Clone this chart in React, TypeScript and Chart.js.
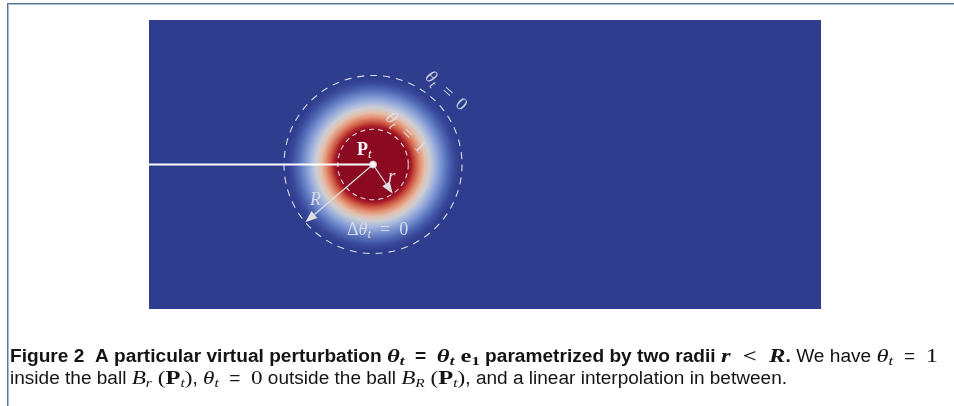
import React, { useEffect, useRef } from "react";
import { Chart, registerables } from "chart.js";

Chart.register(...registerables);

// ---- data (domain units: 1 unit = domain height) ----
const X_RANGE = [0, 2.325];
const Y_RANGE = [0, 1];
const CENTER = { x: 0.775, y: 0.5 };
const RADII = [0.122, 0.308]; // r, R
const CUT_LINE = [
  { x: 0, y: 0.5 },
  { x: 0.775, y: 0.5 },
];
const ARROW_ANGLES = [-56, 220.5]; // degrees: arrow to r, arrow to R
// fraction of R -> colour (cool-to-warm map of theta_t)
const COLOR_STOPS: [number, string][] = [
  [0.0, "rgb(139,9,33)"],
  [0.39, "rgb(139,9,33)"],
  [0.43, "rgb(168,28,40)"],
  [0.475, "rgb(203,84,64)"],
  [0.53, "rgb(226,145,116)"],
  [0.585, "rgb(228,192,172)"],
  [0.64, "rgb(205,206,212)"],
  [0.705, "rgb(160,178,220)"],
  [0.775, "rgb(116,141,205)"],
  [0.845, "rgb(80,104,180)"],
  [0.92, "rgb(56,71,152)"],
  [0.975, "rgb(47,61,143)"],
  [1.0, "rgb(47,61,143)"],
];
// label anchor points (domain units)
const LABEL_PT = { x: 0.72, y: 0.533 };
const LABEL_r = { x: 0.827, y: 0.439 };
const LABEL_R = { x: 0.557, y: 0.36 };
const LABEL_DTHETA = { x: 0.685, y: 0.256 };
const LABEL_THETA0 = { x: 1.03, y: 0.757, rot: 42 };
const LABEL_THETA1 = { x: 0.89, y: 0.612, rot: 45 };

const BG_BLUE = "rgb(47,61,143)";

type Seg = { t: string; f: string; dy?: number; c?: number };

const SANS = '"Liberation Sans", Arial, Helvetica, sans-serif';
const SERIF = '"Liberation Serif", "Times New Roman", serif';
const COND = 0.82;
const B = `bold 18px ${SANS}`;
const RG = `18px ${SANS}`;
const MBI = `bold italic 19px ${SERIF}`;
const MBIs = `bold italic 13px ${SERIF}`;
const MB = `bold 19px ${SERIF}`;
const MBs = `bold 13px ${SERIF}`;
const MI = `italic 18px ${SERIF}`;
const MIs = `italic 12px ${SERIF}`;
const M = `18px ${SERIF}`;
const MI1 = `italic 19px ${SERIF}`;
const MI1s = `italic 13px ${SERIF}`;
const M1 = `19px ${SERIF}`;

const CAPTION_1: Seg[] = [
  { t: "Figure 2  A particular virtual perturbation ", f: B, c: COND },
  { t: "θ", f: MBI },
  { t: "t", f: MBIs, dy: 3 },
  { t: "  =  ", f: B, c: COND },
  { t: "θ", f: MBI },
  { t: "t", f: MBIs, dy: 3 },
  { t: " e", f: MB },
  { t: "1", f: MBs, dy: 3 },
  { t: " parametrized by two radii ", f: B, c: COND },
  { t: "r", f: MBI },
  { t: "  <  ", f: MB },
  { t: "R", f: MBI },
  { t: ". ", f: B, c: COND },
  { t: "We have ", f: RG, c: COND },
  { t: "θ", f: MI1 },
  { t: "t", f: MI1s, dy: 3 },
  { t: "  =  ", f: RG, c: COND },
  { t: "1", f: M1 },
];
const CAPTION_2: Seg[] = [
  { t: "inside the ball ", f: RG, c: COND },
  { t: "B", f: MI },
  { t: "r", f: MIs, dy: 3 },
  { t: " (", f: M },
  { t: "P", f: MB },
  { t: "t", f: MIs, dy: 3 },
  { t: ")", f: M },
  { t: ", ", f: RG, c: COND },
  { t: "θ", f: MI },
  { t: "t", f: MIs, dy: 3 },
  { t: "  =  ", f: RG, c: COND },
  { t: "0", f: M },
  { t: " outside the ball ", f: RG, c: COND },
  { t: "B", f: MI },
  { t: "R", f: MIs, dy: 3 },
  { t: " (", f: M },
  { t: "P", f: MB },
  { t: "t", f: MIs, dy: 3 },
  { t: ")", f: M },
  { t: ", and a linear interpolation in between.", f: RG, c: COND },
];

function measureSegs(ctx: CanvasRenderingContext2D, segs: Seg[]) {
  let w = 0;
  for (const s of segs) {
    ctx.font = s.f;
    w += ctx.measureText(s.t).width * (s.c || 1);
  }
  return w;
}
function drawSegs(ctx: CanvasRenderingContext2D, segs: Seg[], x: number, y: number) {
  let cx = x;
  for (const s of segs) {
    ctx.font = s.f;
    const c = s.c || 1;
    ctx.save();
    ctx.translate(cx, y + (s.dy || 0));
    ctx.scale(c, 1);
    ctx.fillText(s.t, 0, 0);
    ctx.restore();
    cx += ctx.measureText(s.t).width * c;
  }
}

const figurePlugin = {
  id: "figure",
  beforeDraw(chart: any) {
    const { ctx, chartArea, scales } = chart;
    const xs = scales.x;
    const ys = scales.y;
    ctx.save();
    ctx.fillStyle = "#ffffff";
    ctx.fillRect(0, 0, chart.width, chart.height);
    // frame
    ctx.fillStyle = "#5d7690";
    ctx.fillRect(7, 3, chart.width - 7, 1);
    ctx.fillRect(7, 3, 1, chart.height - 3);
    ctx.fillStyle = "#a9bccd";
    ctx.fillRect(8, 4, chart.width - 8, 1);
    ctx.fillRect(8, 4, 1, chart.height - 4);
    // domain
    ctx.fillStyle = BG_BLUE;
    ctx.fillRect(chartArea.left, chartArea.top, chartArea.right - chartArea.left, chartArea.bottom - chartArea.top);
    const cx = xs.getPixelForValue(CENTER.x);
    const cy = ys.getPixelForValue(CENTER.y);
    const unit = xs.getPixelForValue(1) - xs.getPixelForValue(0);
    const rPx = RADII[0] * unit;
    const RPx = RADII[1] * unit;
    const g = ctx.createRadialGradient(cx, cy, 0, cx, cy, RPx);
    for (const [p, c] of COLOR_STOPS) g.addColorStop(p, c);
    ctx.fillStyle = g;
    ctx.beginPath();
    ctx.arc(cx, cy, RPx, 0, Math.PI * 2);
    ctx.fill();
    // dashed circles
    ctx.strokeStyle = "rgba(236,236,240,0.9)";
    ctx.lineWidth = 1.1;
    ctx.setLineDash([7, 6]);
    ctx.beginPath();
    ctx.arc(cx, cy, RPx, 0, Math.PI * 2);
    ctx.stroke();
    ctx.setLineDash([5, 4]);
    ctx.beginPath();
    ctx.arc(cx, cy, rPx, 0, Math.PI * 2);
    ctx.stroke();
    ctx.setLineDash([]);
    ctx.restore();
  },
  beforeDatasetsDraw(chart: any) {
    const { ctx, scales } = chart;
    const xs = scales.x;
    const ys = scales.y;
    const cx = xs.getPixelForValue(CENTER.x);
    const cy = ys.getPixelForValue(CENTER.y);
    const unit = xs.getPixelForValue(1) - xs.getPixelForValue(0);
    ctx.save();
    ARROW_ANGLES.forEach((deg, i) => {
      const a = (deg * Math.PI) / 180;
      const len = RADII[i] * unit;
      const tx = cx + Math.cos(a) * len;
      const ty = cy - Math.sin(a) * len;
      const ux = Math.cos(a);
      const uy = -Math.sin(a);
      const hl = 12;
      const hw = 4.5;
      const bx = tx - ux * hl;
      const by = ty - uy * hl;
      ctx.strokeStyle = "rgb(222,222,226)";
      ctx.fillStyle = "rgb(222,222,226)";
      ctx.lineWidth = 1.2;
      ctx.beginPath();
      ctx.moveTo(cx, cy);
      ctx.lineTo(bx, by);
      ctx.stroke();
      ctx.beginPath();
      ctx.moveTo(tx, ty);
      ctx.lineTo(bx - uy * hw, by + ux * hw);
      ctx.lineTo(bx + uy * hw, by - ux * hw);
      ctx.closePath();
      ctx.fill();
    });
    ctx.restore();
  },
  afterDatasetsDraw(chart: any) {
    const { ctx, scales } = chart;
    const xs = scales.x;
    const ys = scales.y;
    const px = (p: { x: number; y: number }) => [xs.getPixelForValue(p.x), ys.getPixelForValue(p.y)];
    ctx.save();
    ctx.textBaseline = "alphabetic";
    ctx.textAlign = "left";
    // P_t
    ctx.fillStyle = "#ffffff";
    let [x, y] = px(LABEL_PT);
    drawSegs(ctx, [
      { t: "P", f: `bold 18px ${SERIF}` },
      { t: "t", f: `italic 13px ${SERIF}`, dy: 3 },
    ], x, y);
    ctx.fillStyle = "rgb(225,225,230)";
    [x, y] = px(LABEL_r);
    drawSegs(ctx, [{ t: "r", f: `italic 19px ${SERIF}` }], x, y);
    ctx.fillStyle = "rgb(215,218,228)";
    [x, y] = px(LABEL_R);
    drawSegs(ctx, [{ t: "R", f: `italic 18px ${SERIF}` }], x, y);
    [x, y] = px(LABEL_DTHETA);
    const dSegs: Seg[] = [
      { t: "Δ", f: `18px ${SERIF}` },
      { t: "θ", f: `italic 18px ${SERIF}` },
      { t: "t", f: `italic 13px ${SERIF}`, dy: 3 },
      { t: "  =  0", f: `18px ${SERIF}` },
    ];
    drawSegs(ctx, dSegs, x, y);
    // rotated labels
    const rotLabel = (L: { x: number; y: number; rot: number }, val: string) => {
      const [lx, ly] = px(L);
      const segs: Seg[] = [
        { t: "θ", f: `italic 18px ${SERIF}` },
        { t: "t", f: `italic 13px ${SERIF}`, dy: 3 },
        { t: "  =  " + val, f: `18px ${SERIF}` },
      ];
      const w = measureSegs(ctx, segs);
      ctx.save();
      ctx.translate(lx, ly);
      ctx.rotate((L.rot * Math.PI) / 180);
      ctx.fillStyle = "rgba(222,226,236,0.88)";
      drawSegs(ctx, segs, -w / 2, 6);
      ctx.restore();
    };
    rotLabel(LABEL_THETA0, "0");
    rotLabel(LABEL_THETA1, "1");
    // caption
    ctx.fillStyle = "#141414";
    const drawLine = (segs: Seg[], x0: number, base: number, target: number) => {
      const w = measureSegs(ctx, segs);
      ctx.save();
      ctx.translate(x0, base);
      ctx.scale(target / w, 1);
      drawSegs(ctx, segs, 0, 0);
      ctx.restore();
    };
    drawLine(CAPTION_1, 10, 362, 928);
    drawLine(CAPTION_2, 10, 384, 777);
    ctx.restore();
  },
};

export default function App() {
  const ref = useRef<HTMLCanvasElement | null>(null);
  useEffect(() => {
    if (!ref.current) return;
    const chart = new Chart(ref.current, {
      type: "scatter",
      data: {
        datasets: [
          {
            label: "centre",
            data: [CENTER],
            pointRadius: 3.5,
            pointBackgroundColor: "#ffffff",
            pointBorderColor: "#c8c8d0",
            pointBorderWidth: 1,
            order: 0,
          },
          {
            label: "cut",
            data: CUT_LINE,
            showLine: true,
            borderColor: "#ffffff",
            borderWidth: 2,
            pointRadius: 0,
            order: 1,
          },
        ],
      },
      options: {
        animation: false,
        responsive: false,
        maintainAspectRatio: false,
        events: [],
        layout: { padding: { left: 149, right: 133, top: 20, bottom: 97 } },
        scales: {
          x: { type: "linear", min: X_RANGE[0], max: X_RANGE[1], display: false },
          y: { type: "linear", min: Y_RANGE[0], max: Y_RANGE[1], display: false },
        },
        plugins: { legend: { display: false }, tooltip: { enabled: false }, title: { display: false } },
      },
      plugins: [figurePlugin],
    });
    return () => chart.destroy();
  }, []);
  return (
    <div style={{ position: "absolute", left: 0, top: 0, width: 954, height: 406 }}>
      <canvas ref={ref} width={954} height={406} style={{ display: "block" }} />
    </div>
  );
}
